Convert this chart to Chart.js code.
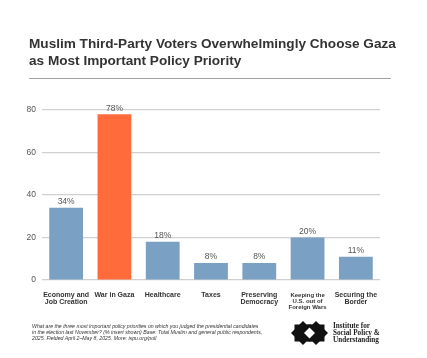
<!DOCTYPE html>
<html>
<head>
<meta charset="utf-8">
<script src="https://cdn.jsdelivr.net/npm/chart.js@4/dist/chart.umd.min.js"></script>
<style>
  html, body { margin: 0; padding: 0; background: #fff; }
  #page { position: relative; width: 427px; height: 358px; overflow: hidden; }
  #chart { position: absolute; left: 0; top: 0; }
  #title {
    position: absolute; left: 29px; top: 36px; width: 390px;
    font-family: "Liberation Sans", Arial, sans-serif;
    font-weight: bold; font-size: 13.6px; line-height: 16.7px; color: #333;
  }
  #rule { position: absolute; left: 29px; top: 78px; width: 362px; height: 1.3px; background: #a3a3a3; }
  #note {
    position: absolute; left: 32px; top: 323px; width: 260px; white-space: nowrap;
    font-family: "Liberation Sans", Arial, sans-serif; font-style: italic;
    font-size: 5.2px; line-height: 6px; color: #333;
  }
  #logo { position: absolute; left: 291px; top: 320px; }
  #org {
    position: absolute; left: 333px; top: 322.5px;
    font-family: "Liberation Serif", "DejaVu Serif", serif; font-weight: bold;
    font-size: 7.2px; line-height: 7.3px; color: #222;
  }
</style>
</head>
<body>
<div id="page">
  <canvas id="chart" width="427" height="358"></canvas>
  <div id="title">Muslim Third-Party Voters Overwhelmingly Choose Gaza<br>as Most Important Policy Priority</div>
  <div id="rule"></div>
  <div id="note">What are the three most important policy priorities on which you judged the presidential candidates<br>in the election last November? (% insert shown) Base: Total Muslim and general public respondents,<br>2025. Fielded April 2–May 8, 2025. More: ispu.org/poll</div>
  <svg id="logo" width="37" height="26" viewBox="0 0 37 26">
    <g fill="#111">
      <rect x="3.5" y="4.5" width="17" height="17"/>
      <rect x="3.5" y="4.5" width="17" height="17" transform="rotate(45 12 13)"/>
      <rect x="16.5" y="4.5" width="17" height="17"/>
      <rect x="16.5" y="4.5" width="17" height="17" transform="rotate(45 25 13)"/>
    </g>
    <polygon points="18.5,7.5 24,13 18.5,18.5 13,13" fill="#fff"/>
  </svg>
  <div id="org">Institute for<br>Social Policy &amp;<br>Understanding</div>
</div>
<script>
const categories = [
  ["Economy and", "Job Creation"],
  ["War in Gaza"],
  ["Healthcare"],
  ["Taxes"],
  ["Preserving", "Democracy"],
  ["Keeping the", "U.S. out of", "Foreign Wars"],
  ["Securing the", "Border"]
];
const shares = [34, 78, 18, 8, 8, 20, 11];
const yTicks = [0, 20, 40, 60, 80];

const BLUE = "#7aa0c4";
const ORANGE = "#ff6b3b";
const barColors = shares.map((v, i) => (i === 1 ? ORANGE : BLUE));

// Draw the percentage labels above each bar
const valueLabels = {
  id: "valueLabels",
  afterDatasetsDraw(chart) {
    const ctx = chart.ctx;
    const meta = chart.getDatasetMeta(0);
    ctx.save();
    ctx.font = "8.5px 'Liberation Sans', Arial, sans-serif";
    ctx.fillStyle = "#555";
    ctx.textAlign = "center";
    ctx.textBaseline = "middle";
    meta.data.forEach((bar, i) => {
      ctx.fillText(shares[i] + "%", bar.x, bar.y - 6);
    });
    ctx.restore();
  }
};

new Chart(document.getElementById("chart"), {
  type: "bar",
  data: {
    labels: categories,
    datasets: [{
      data: shares,
      backgroundColor: barColors,
      barPercentage: 0.7,
      categoryPercentage: 1
    }]
  },
  options: {
    responsive: false,
    animation: false,
    layout: { padding: { left: 0, right: 47, top: 110, bottom: 0 } },
    plugins: { legend: { display: false }, tooltip: { enabled: false } },
    scales: {
      x: {
        grid: { display: false },
        border: { display: false },
        afterFit: (scale) => { scale.height = 78; },
        ticks: {
          autoSkip: false,
          maxRotation: 0,
          padding: 4,
          color: "#333",
          font: (c) => ({
            family: "'Liberation Sans', Arial, sans-serif",
            weight: "bold",
            size: c.index === 5 ? 6 : 7,
            lineHeight: 1.0
          })
        }
      },
      y: {
        min: 0,
        max: 80,
        afterFit: (scale) => { scale.width = 42; },
        afterBuildTicks: (scale) => { scale.ticks = yTicks.map((v) => ({ value: v })); },
        grid: { color: "#d0d0d0", lineWidth: 1.2, drawTicks: false },
        border: { display: false },
        ticks: {
          padding: 6,
          color: "#555",
          font: { family: "'Liberation Sans', Arial, sans-serif", size: 8.5 }
        }
      }
    }
  },
  plugins: [valueLabels]
});
</script>
</body>
</html>
